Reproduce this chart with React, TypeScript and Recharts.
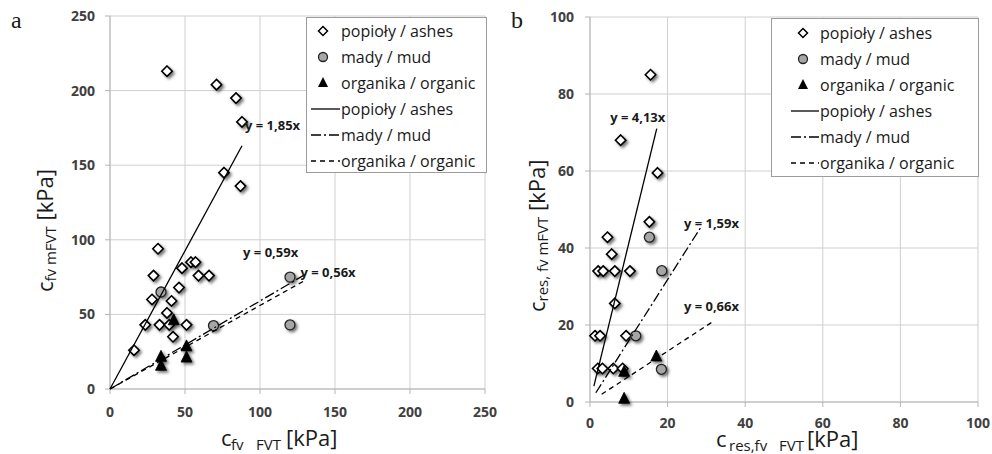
import React from 'react';
import { ScatterChart, Scatter, XAxis, YAxis, CartesianGrid, Legend, Label } from 'recharts';

// ---------- panel a ----------
const ashesA = [
  { x: 38, y: 213 }, { x: 71, y: 204 }, { x: 84, y: 195 }, { x: 88, y: 179 },
  { x: 76, y: 145 }, { x: 87, y: 136 }, { x: 32, y: 94 }, { x: 29, y: 76 },
  { x: 48, y: 81 }, { x: 54, y: 85 }, { x: 57, y: 85 }, { x: 59, y: 76 },
  { x: 66, y: 76 }, { x: 46, y: 68 }, { x: 28, y: 60 }, { x: 41, y: 59 },
  { x: 38, y: 51 }, { x: 23.5, y: 43 }, { x: 33, y: 43 }, { x: 39.5, y: 43 },
  { x: 51, y: 43 }, { x: 42, y: 35 }, { x: 16, y: 26 },
];
const mudA = [{ x: 34, y: 65 }, { x: 69, y: 42.5 }, { x: 120, y: 75 }, { x: 120, y: 43 }];
const organicA = [
  { x: 42.5, y: 46 }, { x: 34, y: 21.5 }, { x: 34, y: 15.5 }, { x: 51, y: 28.5 }, { x: 51, y: 21 },
];
const trendAshesA = [{ x: 0, y: 0 }, { x: 88, y: 163 }];
const trendMudA = [{ x: 0, y: 0 }, { x: 130, y: 76.7 }];
const trendOrganicA = [{ x: 0, y: 0 }, { x: 130, y: 72.8 }];
const equationsA = [
  { x: 90, y: 177, text: 'y = 1,85x' },
  { x: 88.7, y: 92, text: 'y = 0,59x' },
  { x: 127, y: 78.5, text: 'y = 0,56x' },
];
const ticksA = [0, 50, 100, 150, 200, 250];

// ---------- panel b ----------
const ashesB = [
  { x: 15.6, y: 85 }, { x: 7.9, y: 68 }, { x: 17.4, y: 59.5 }, { x: 15.3, y: 46.8 },
  { x: 4.5, y: 42.8 }, { x: 5.6, y: 38.4 }, { x: 2.1, y: 34 }, { x: 3.4, y: 34 },
  { x: 6.4, y: 34 }, { x: 10.3, y: 34 }, { x: 6.4, y: 25.6 }, { x: 1.3, y: 17.2 },
  { x: 2.6, y: 17.2 }, { x: 9.3, y: 17.2 }, { x: 2, y: 8.7 }, { x: 3.2, y: 8.7 },
  { x: 6, y: 8.7 }, { x: 8.4, y: 8.7 },
];
const mudB = [{ x: 15.3, y: 42.8 }, { x: 18.5, y: 34.1 }, { x: 11.8, y: 17.2 }, { x: 18.4, y: 8.5 }];
const organicB = [{ x: 8.8, y: 7.8 }, { x: 8.8, y: 0.8 }, { x: 17.1, y: 11.8 }];
const trendAshesB = [{ x: 1, y: 4.1 }, { x: 17.2, y: 71 }];
const trendMudB = [{ x: 1.5, y: 2.4 }, { x: 28.5, y: 45.3 }];
const trendOrganicB = [{ x: 3, y: 2 }, { x: 32, y: 21.1 }];
const equationsB = [
  { x: 5.2, y: 74, text: 'y = 4,13x' },
  { x: 24.2, y: 46.5, text: 'y = 1,59x' },
  { x: 24.2, y: 24.9, text: 'y = 0,66x' },
];
const ticksB = [0, 20, 40, 60, 80, 100];

const seriesNames = ['popioły / ashes', 'mady / mud', 'organika / organic'];

const FONT = "'Open Sans', 'Noto Sans', sans-serif";
const MUD_DASH = '10 3 2 3';
const ORG_DASH = '5 4';

const diamondPath = (cx: number, cy: number, s: number) =>
  `M${cx},${cy - s}L${cx + s},${cy}L${cx},${cy + s}L${cx - s},${cy}Z`;
const trianglePath = (cx: number, cy: number, w: number, h: number) =>
  `M${cx},${cy - h * 0.6}L${cx + w / 2},${cy + h * 0.4}L${cx - w / 2},${cy + h * 0.4}Z`;

const DiamondShape = (p: any) =>
  p.cx == null ? <g /> : (
    <path d={diamondPath(p.cx, p.cy, 5.2)} fill="#fff" stroke="#000" strokeWidth={1.6} filter="url(#mk-shadow)" />
  );
const CircleShape = (p: any) =>
  p.cx == null ? <g /> : (
    <circle cx={p.cx} cy={p.cy} r={5} fill="#a6a6a6" stroke="#222" strokeWidth={1.3} filter="url(#mk-shadow)" />
  );
const TriangleShape = (p: any) =>
  p.cx == null ? <g /> : (
    <path d={trianglePath(p.cx, p.cy, 11, 11)} fill="#000" stroke="#000" strokeWidth={0.8} filter="url(#mk-shadow)" />
  );
const NoShape = () => <g />;
const EquationShape = (p: any) =>
  p.cx == null ? <g /> : (
    <text x={p.cx} y={p.cy} dominantBaseline="central" fontFamily={FONT} fontWeight={700} fontSize={13} fill="#1a1a1a">
      {p.payload.text}
    </text>
  );

type LegendProps = {
  w: number; h: number; row0: number; step: number; symX: number; lx1: number; lx2: number; textX: number;
};
const LegendBox = ({ w, h, row0, step, symX, lx1, lx2, textX }: LegendProps) => {
  const rows = [0, 1, 2, 3, 4, 5].map((i) => row0 + i * step);
  return (
    <div style={{ width: w, height: h, boxSizing: 'border-box', border: '1px solid #9c9c9c', background: '#fff' }}>
      <svg width={w - 2} height={h - 2} style={{ display: 'block' }}>
        <path d={diamondPath(symX, rows[0], 4.5)} fill="#fff" stroke="#000" strokeWidth={1.5} />
        <circle cx={symX} cy={rows[1]} r={4.5} fill="#a6a6a6" stroke="#222" strokeWidth={1.3} />
        <path d={trianglePath(symX, rows[2], 10, 10)} fill="#000" />
        <line x1={lx1} x2={lx2} y1={rows[3]} y2={rows[3]} stroke="#000" strokeWidth={1.3} />
        <line x1={lx1} x2={lx2} y1={rows[4]} y2={rows[4]} stroke="#000" strokeWidth={1.3} strokeDasharray={MUD_DASH} />
        <line x1={lx1} x2={lx2} y1={rows[5]} y2={rows[5]} stroke="#000" strokeWidth={1.3} strokeDasharray={ORG_DASH} />
        {rows.map((ry, i) => (
          <text key={i} x={textX} y={ry} dominantBaseline="central" fontFamily={FONT} fontSize={16} fill="#1a1a1a">
            {seriesNames[i % 3]}
          </text>
        ))}
      </svg>
    </div>
  );
};

const tickStyle = { fill: '#404040', fontSize: 14, fontWeight: 700, fontFamily: FONT };
const GRID = '#cfcfcf';
const AXIS = '#b5b5b5';

const XTitleA = () => (
  <text fontFamily={FONT} fill="#1a1a1a" style={{ whiteSpace: 'pre' }}>
    <tspan x={221} y={446} fontSize={22}>c</tspan>
    <tspan x={231} y={450} fontSize={15}>fv</tspan>
    <tspan x={256} y={450} fontSize={15}>FVT</tspan>
    <tspan x={286} y={446} fontSize={22}>[kPa]</tspan>
  </text>
);
const YTitleA = () => (
  <text transform="translate(53,292) rotate(-90)" fontFamily={FONT} fill="#1a1a1a" style={{ whiteSpace: 'pre' }}>
    <tspan fontSize={22}>c</tspan>
    <tspan fontSize={15} dy={3}>fv mFVT</tspan>
    <tspan fontSize={22} dy={-3}> [kPa]</tspan>
  </text>
);
const XTitleB = () => (
  <text fontFamily={FONT} fill="#1a1a1a" style={{ whiteSpace: 'pre' }}>
    <tspan x={216} y={447} fontSize={22}>c</tspan>
    <tspan x={229} y={451} fontSize={15}>res,fv</tspan>
    <tspan x={279} y={451} fontSize={15}>FVT</tspan>
    <tspan x={307} y={447} fontSize={22}>[kPa]</tspan>
  </text>
);
const YTitleB = () => (
  <text transform="translate(45,312) rotate(-90)" fontFamily={FONT} fill="#1a1a1a" style={{ whiteSpace: 'pre' }}>
    <tspan fontSize={22}>c</tspan>
    <tspan fontSize={15} dy={3}>res, fv mFVT</tspan>
    <tspan fontSize={22} dy={-3}> [kPa]</tspan>
  </text>
);

export default function App() {
  return (
    <div style={{ position: 'absolute', left: 0, top: 0, width: 992, height: 454, background: '#fff', overflow: 'hidden' }}>
      <svg width={0} height={0} style={{ position: 'absolute' }}>
        <defs>
          <filter id="mk-shadow" x="-80%" y="-80%" width="260%" height="260%">
            <feDropShadow dx={2} dy={2} stdDeviation={1.4} floodColor="#000" floodOpacity={0.55} />
          </filter>
        </defs>
      </svg>

      <div style={{ position: 'absolute', left: 0, top: 0 }}>
        <ScatterChart width={500} height={454} margin={{ top: 16, right: 15, bottom: 0, left: 0 }}>
          <CartesianGrid stroke={GRID} strokeWidth={1} />
          <XAxis
            type="number" dataKey="x" domain={[0, 250]} ticks={ticksA} height={65}
            tick={tickStyle} tickSize={5} tickMargin={13} stroke={AXIS}
            axisLine={{ stroke: AXIS }} tickLine={{ stroke: AXIS }}
          >
            <Label content={XTitleA} />
          </XAxis>
          <YAxis
            type="number" dataKey="y" domain={[0, 250]} ticks={ticksA} width={110}
            tick={tickStyle} tickSize={5} tickMargin={10} stroke={AXIS}
            axisLine={{ stroke: AXIS }} tickLine={{ stroke: AXIS }}
          >
            <Label content={YTitleA} />
          </YAxis>
          <Scatter data={ashesA} shape={DiamondShape} isAnimationActive={false} />
          <Scatter data={mudA} shape={CircleShape} isAnimationActive={false} />
          <Scatter data={organicA} shape={TriangleShape} isAnimationActive={false} />
          <Scatter data={trendAshesA} shape={NoShape} line={{ stroke: '#000', strokeWidth: 1.3 }} isAnimationActive={false} />
          <Scatter data={trendMudA} shape={NoShape} line={{ stroke: '#000', strokeWidth: 1.3, strokeDasharray: MUD_DASH }} isAnimationActive={false} />
          <Scatter data={trendOrganicA} shape={NoShape} line={{ stroke: '#000', strokeWidth: 1.3, strokeDasharray: ORG_DASH }} isAnimationActive={false} />
          <Scatter data={equationsA} shape={EquationShape} isAnimationActive={false} />
          <Legend
            layout="vertical" align="center" verticalAlign="middle"
            wrapperStyle={{ left: 306, top: 17, width: 181, height: 156 }}
            content={() => <LegendBox w={181} h={156} row0={13} step={26} symX={16} lx1={4} lx2={33} textX={34} />}
          />
        </ScatterChart>
      </div>

      <div style={{ position: 'absolute', left: 500, top: 0 }}>
        <ScatterChart width={492} height={454} margin={{ top: 17, right: 14, bottom: 0, left: 0 }}>
          <CartesianGrid stroke={GRID} strokeWidth={1} />
          <XAxis
            type="number" dataKey="x" domain={[0, 100]} ticks={ticksB} height={52}
            tick={tickStyle} tickSize={5} tickMargin={11} stroke={AXIS}
            axisLine={{ stroke: AXIS }} tickLine={{ stroke: AXIS }}
          >
            <Label content={XTitleB} />
          </XAxis>
          <YAxis
            type="number" dataKey="y" domain={[0, 100]} ticks={ticksB} width={90}
            tick={tickStyle} tickSize={5} tickMargin={11} stroke={AXIS}
            axisLine={{ stroke: AXIS }} tickLine={{ stroke: AXIS }}
          >
            <Label content={YTitleB} />
          </YAxis>
          <Scatter data={ashesB} shape={DiamondShape} isAnimationActive={false} />
          <Scatter data={mudB} shape={CircleShape} isAnimationActive={false} />
          <Scatter data={organicB} shape={TriangleShape} isAnimationActive={false} />
          <Scatter data={trendAshesB} shape={NoShape} line={{ stroke: '#000', strokeWidth: 1.3 }} isAnimationActive={false} />
          <Scatter data={trendMudB} shape={NoShape} line={{ stroke: '#000', strokeWidth: 1.3, strokeDasharray: MUD_DASH }} isAnimationActive={false} />
          <Scatter data={trendOrganicB} shape={NoShape} line={{ stroke: '#000', strokeWidth: 1.3, strokeDasharray: ORG_DASH }} isAnimationActive={false} />
          <Scatter data={equationsB} shape={EquationShape} isAnimationActive={false} />
          <Legend
            layout="vertical" align="center" verticalAlign="middle"
            wrapperStyle={{ left: 271, top: 18, width: 208, height: 159 }}
            content={() => <LegendBox w={208} h={159} row0={14} step={26} symX={31} lx1={19} lx2={47} textX={48} />}
          />
        </ScatterChart>
      </div>

      <svg width={992} height={454} style={{ position: 'absolute', left: 0, top: 0, pointerEvents: 'none' }}>
        <text x={11} y={28} fontFamily="'Liberation Serif', 'DejaVu Serif', serif" fontSize={24} fill="#1a1a1a">a</text>
        <text x={511} y={28} fontFamily="'Liberation Serif', 'DejaVu Serif', serif" fontSize={24} fill="#1a1a1a">b</text>
      </svg>
    </div>
  );
}
